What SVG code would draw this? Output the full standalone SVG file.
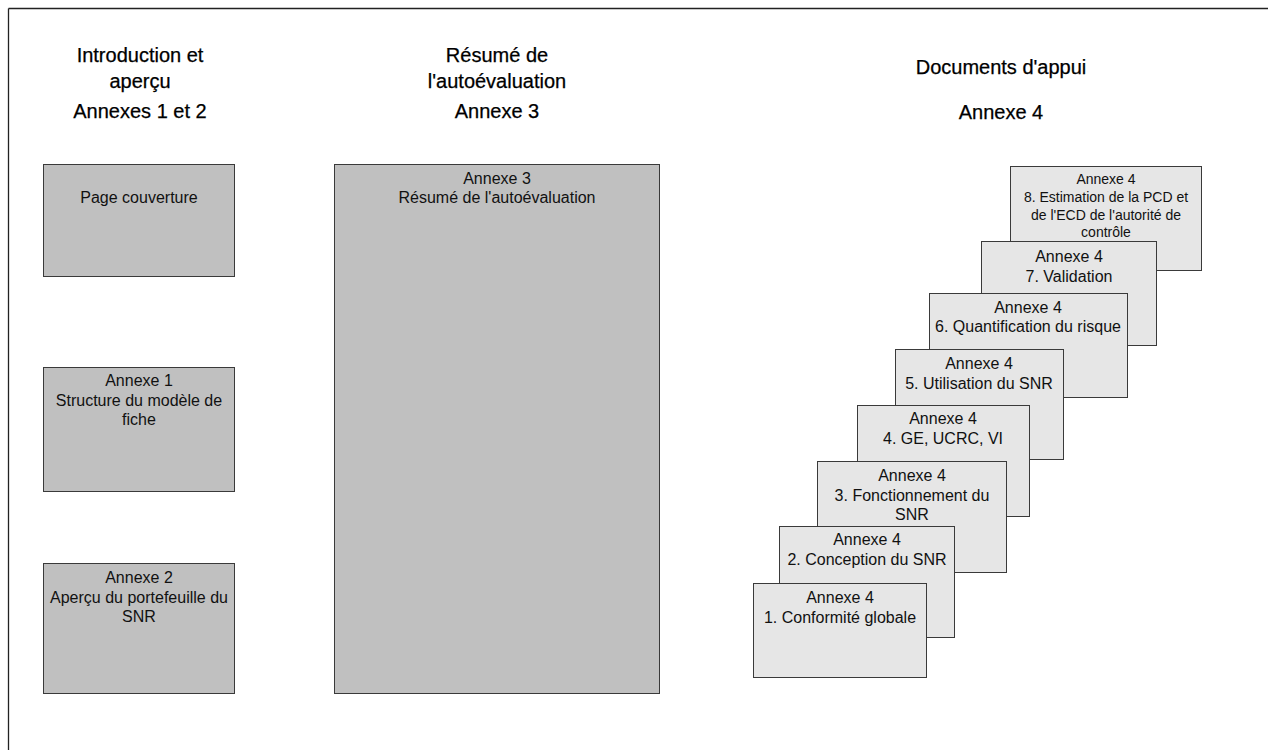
<svg xmlns="http://www.w3.org/2000/svg" width="1268" height="750" viewBox="0 0 1268 750">
<style>
  .frame { stroke: #222; stroke-width: 1.3; fill: none; }
  .dark { fill: #c0c0c0; stroke: #3a3a3a; stroke-width: 1; }
  .light { fill: #e6e6e6; stroke: #3a3a3a; stroke-width: 1; }
  text { font-family: "Liberation Sans", Arial, sans-serif; fill: #111; text-anchor: middle; }
  .hdr { font-size: 20px; fill: #000; stroke: #000; stroke-width: 0.25; }
  .lbl { font-size: 16px; }
  .sm { font-size: 14px; }
</style>
<rect width="1268" height="750" fill="#ffffff"/>
<g id="frame">
  <line class="frame" x1="8.5" y1="8.5" x2="1268" y2="8.5"/>
  <line class="frame" x1="8.5" y1="8.5" x2="8.5" y2="750"/>
</g>
<g id="headers">
  <text class="hdr" x="140" y="62">Introduction et</text>
  <text class="hdr" x="140" y="88">aperçu</text>
  <text class="hdr" x="140" y="118">Annexes 1 et 2</text>
  <text class="hdr" x="497" y="62">Résumé de</text>
  <text class="hdr" x="497" y="88">l'autoévaluation</text>
  <text class="hdr" x="497" y="118">Annexe 3</text>
  <text class="hdr" x="1001" y="74">Documents d'appui</text>
  <text class="hdr" x="1001" y="119">Annexe 4</text>
</g>
<g id="connectors"/>
<g id="page-couverture">
  <rect class="dark" x="43.5" y="164.5" width="191" height="112"/>
  <text class="lbl" x="139" y="203">Page couverture</text>
</g>
<g id="annexe-1">
  <rect class="dark" x="43.5" y="367.5" width="191" height="124"/>
  <text class="lbl" x="139" y="386">Annexe 1</text>
  <text class="lbl" x="139" y="405.5">Structure du modèle de</text>
  <text class="lbl" x="139" y="425">fiche</text>
</g>
<g id="annexe-2">
  <rect class="dark" x="43.5" y="563.5" width="191" height="130"/>
  <text class="lbl" x="139" y="583">Annexe 2</text>
  <text class="lbl" x="139" y="602.5">Aperçu du portefeuille du</text>
  <text class="lbl" x="139" y="622">SNR</text>
</g>
<g id="annexe-3">
  <rect class="dark" x="334.5" y="164.5" width="325" height="529"/>
  <text class="lbl" x="497" y="184">Annexe 3</text>
  <text class="lbl" x="497" y="203">Résumé de l'autoévaluation</text>
</g>
<g id="annexe-4-8">
  <rect class="light" x="1010.5" y="166.5" width="191" height="104"/>
  <text class="sm" x="1106" y="184">Annexe 4</text>
  <text class="sm" x="1106" y="202">8. Estimation de la PCD et</text>
  <text class="sm" x="1106" y="219.5">de l'ECD de l'autorité de</text>
  <text class="sm" x="1106" y="237">contrôle</text>
</g>
<g id="annexe-4-7">
  <rect class="light" x="981.5" y="241.5" width="175" height="104"/>
  <text class="lbl" x="1069" y="262">Annexe 4</text>
  <text class="lbl" x="1069" y="281.5">7. Validation</text>
</g>
<g id="annexe-4-6">
  <rect class="light" x="929.5" y="293.5" width="198" height="104"/>
  <text class="lbl" x="1028" y="313">Annexe 4</text>
  <text class="lbl" x="1028" y="332">6. Quantification du risque</text>
</g>
<g id="annexe-4-5">
  <rect class="light" x="895.5" y="349.5" width="168" height="110"/>
  <text class="lbl" x="979" y="369">Annexe 4</text>
  <text class="lbl" x="979" y="388.5">5. Utilisation du SNR</text>
</g>
<g id="annexe-4-4">
  <rect class="light" x="857.5" y="405.5" width="172" height="111"/>
  <text class="lbl" x="943" y="424">Annexe 4</text>
  <text class="lbl" x="943" y="444">4. GE, UCRC, VI</text>
</g>
<g id="annexe-4-3">
  <rect class="light" x="817.5" y="461.5" width="189" height="111"/>
  <text class="lbl" x="912" y="481">Annexe 4</text>
  <text class="lbl" x="912" y="500.5">3. Fonctionnement du</text>
  <text class="lbl" x="912" y="520">SNR</text>
</g>
<g id="annexe-4-2">
  <rect class="light" x="779.5" y="526.5" width="175" height="111"/>
  <text class="lbl" x="867" y="545">Annexe 4</text>
  <text class="lbl" x="867" y="565">2. Conception du SNR</text>
</g>
<g id="annexe-4-1">
  <rect class="light" x="753.5" y="583.5" width="173" height="94"/>
  <text class="lbl" x="840" y="603">Annexe 4</text>
  <text class="lbl" x="840" y="622.5">1. Conformité globale</text>
</g>
</svg>
